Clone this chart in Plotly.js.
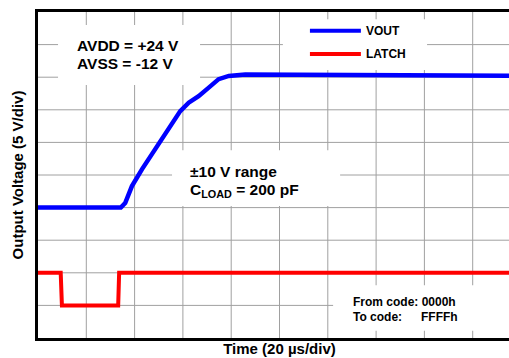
<!DOCTYPE html>
<html>
<head>
<meta charset="utf-8">
<script src="https://cdn.plot.ly/plotly-3.0.1.min.js"></script>
<style>
html, body { margin: 0; padding: 0; overflow: hidden; background: #fff; }
#chart { width: 540px; height: 358px; }
</style>
</head>
<body>
<div id="chart"></div>
<script>
// Time in microseconds (20 us/div), voltage in volts (5 V/div)
const voutTime = [0, 34.3, 36.1, 38.9, 43.1, 47.2, 50.6, 54.8, 58.9, 62.4, 66.5, 70.7, 74.8, 79.0, 85.8, 200];
const voutVolts = [-10, -10, -9.3, -6.7, -4.1, -1.8, 0.2, 2.5, 4.8, 6.1, 7.1, 8.4, 9.7, 10.2, 10.4, 10.2];
const latchTime = [0, 9.4, 9.9, 33.2, 33.6, 200];
const latchVolts = [-20, -20, -25, -25, -20, -20];
const seriesNames = ['VOUT', 'LATCH'];
const seriesColors = ['#0000ff', '#ff0000'];

const X_RANGE = [0, 200], X_DIV = 20;
const Y_RANGE = [-30, 20], Y_DIV = 5;

const FONT = 'Liberation Sans, Arial, Helvetica, sans-serif';
const GRID_COLOR = '#a0a0a0';

const traces = [
  { x: voutTime, y: voutVolts, name: seriesNames[0], mode: 'lines',
    line: { color: seriesColors[0], width: 4.5 } },
  { x: latchTime, y: latchVolts, name: seriesNames[1], mode: 'lines',
    line: { color: seriesColors[1], width: 4 } }
];

// division grid (scope graticule) built from the axis ranges
const gridShapes = [];
for (let t = X_RANGE[0] + X_DIV; t < X_RANGE[1]; t += X_DIV) {
  gridShapes.push({ type: 'line', xref: 'x', yref: 'y', x0: t, x1: t, y0: Y_RANGE[0], y1: Y_RANGE[1],
    line: { color: GRID_COLOR, width: 1 }, layer: 'below' });
}
for (let v = Y_RANGE[0] + Y_DIV; v < Y_RANGE[1]; v += Y_DIV) {
  gridShapes.push({ type: 'line', xref: 'x', yref: 'y', x0: X_RANGE[0], x1: X_RANGE[1], y0: v, y1: v,
    line: { color: GRID_COLOR, width: 1 }, layer: 'below' });
}

function whiteBox(x0, x1, y0, y1) {
  return { type: 'rect', xref: 'x', yref: 'y', x0: x0, x1: x1, y0: y0, y1: y1,
           fillcolor: '#ffffff', line: { width: 0 }, layer: 'below' };
}
function legLine(y, color) {
  return { type: 'line', xref: 'x', yref: 'y', x0: 112.6, x1: 133.7, y0: y, y1: y,
           line: { color: color, width: 4 }, layer: 'above' };
}
function txt(x, y, text, size, anchor) {
  return { xref: 'x', yref: 'y', x: x, y: y, text: '<b>' + text + '</b>', showarrow: false,
           xanchor: anchor || 'left', yanchor: 'middle', align: 'left',
           font: { family: FONT, size: size, color: '#000' } };
}

const layout = {
  width: 540, height: 358,
  margin: { l: 38, r: 19, t: 12, b: 20 },
  paper_bgcolor: '#ffffff', plot_bgcolor: '#ffffff',
  showlegend: false,
  xaxis: {
    range: X_RANGE, dtick: X_DIV, tick0: 0, showticklabels: false, ticks: '', showgrid: false,
    zeroline: false, showline: true, mirror: true, linecolor: '#000', linewidth: 3,
    title: { text: '<b>Time (20 µs/div)</b>', font: { family: FONT, size: 15, color: '#000' }, standoff: 4 }
  },
  yaxis: {
    range: Y_RANGE, dtick: Y_DIV, tick0: 0, showticklabels: false, ticks: '', showgrid: false,
    zeroline: false, showline: true, mirror: true, linecolor: '#000', linewidth: 3,
    title: { text: '<b>Output Voltage (5 V/div)</b>', font: { family: FONT, size: 15, color: '#000' }, standoff: 8 }
  },
  shapes: gridShapes.concat([
    whiteBox(8.3, 67.1, 8.8, 18.0),
    whiteBox(101.4, 161.1, 11.1, 18.9),
    whiteBox(55.5, 125.1, -9.75, -1.2),
    whiteBox(122.2, 210, -28.9, -21.9),
    legLine(17.13, seriesColors[0]),
    legLine(13.56, seriesColors[1])
  ]),
  annotations: [
    txt(15.5, 14.83, 'AVDD = +24 V', 15.5),
    txt(15.5, 12.13, 'AVSS = -12 V', 15.5),
    txt(62.1, -4.39, '±10 V range', 15.5),
    txt(62.1, -7.30, 'C<sub>LOAD</sub> = 200 pF', 15.5),
    txt(135.0, 17.13, seriesNames[0], 12),
    txt(135.0, 13.56, seriesNames[1], 12),
    txt(129.5, -24.55, 'From code: 0000h', 12),
    txt(129.5, -26.75, 'To code:', 12),
    txt(174.6, -26.75, 'FFFFh', 12, 'right')
  ]
};

Plotly.newPlot('chart', traces, layout, { displayModeBar: false, staticPlot: true });
</script>
</body>
</html>
